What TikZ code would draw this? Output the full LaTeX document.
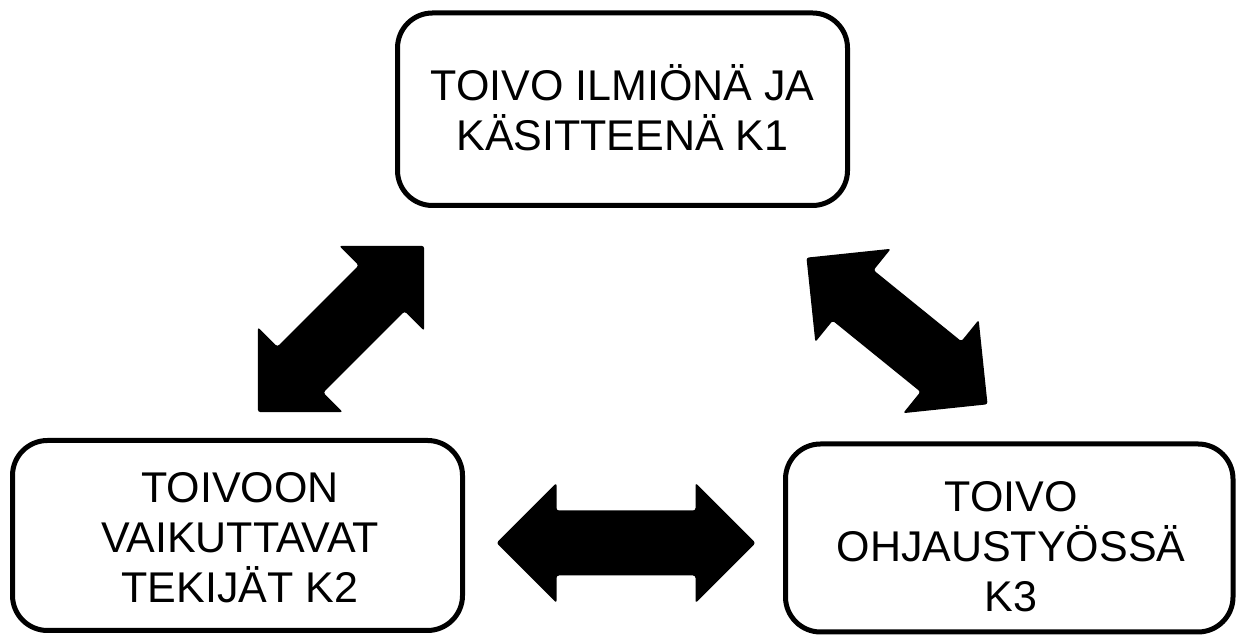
\documentclass[tikz,border=0pt]{standalone}
\usepackage{fontspec}
\setmainfont{Liberation Sans}
\begin{document}
\begin{tikzpicture}[x=0.5pt, y=0.5pt,
  box/.style={draw=black, line width=2.5pt, rounded corners=17.5pt, fill=white, inner sep=0pt},
  boxtext/.style={align=center, font=\fontsize{21.5}{25}\selectfont, inner sep=0pt},
  % block double arrow: length #1, head width 120, shaft width 65, head length 60
  pics/dblarrow/.style={code={
    \fill[black, rounded corners=1.2pt]
      (-#1/2,0) -- (-#1/2+60,60) -- (-#1/2+60,32.5) -- (#1/2-60,32.5)
      -- (#1/2-60,60) -- (#1/2,0) -- (#1/2-60,-60) -- (#1/2-60,-32.5)
      -- (-#1/2+60,-32.5) -- (-#1/2+60,-60) -- cycle;
  }}]
\path[use as bounding box, fill=white] (0,0) rectangle (1236,635);

% the three concept boxes
\node[box, minimum width=225pt, minimum height=96.25pt] (k1) at (622.5,525.75) {};
\node[box, minimum width=225pt, minimum height=95pt]    (k2) at (237.5,99.5) {};
\node[box, minimum width=223.75pt, minimum height=94pt] (k3) at (1009.25,97) {};

\node[boxtext] (t1) at ([xshift=0pt, yshift=0.6pt]k1.center) {TOIVO ILMIÖNÄ JA\\KÄSITTEENÄ K1};
\node[boxtext] (t2) at (240,97) {TOIVOON\\VAIKUTTAVAT\\TEKIJÄT K2};
\node[boxtext] (t3) at (1011,88.5) {TOIVO\\OHJAUSTYÖSSÄ\\K3};

% two-way links between the concepts
\pic[rotate=45]  (a12) at (341,306) {dblarrow=235};
\pic[rotate=-39] (a13) at (897,304) {dblarrow=233};
\pic             (a23) at (626,92)  {dblarrow=259};
\end{tikzpicture}
\end{document}
